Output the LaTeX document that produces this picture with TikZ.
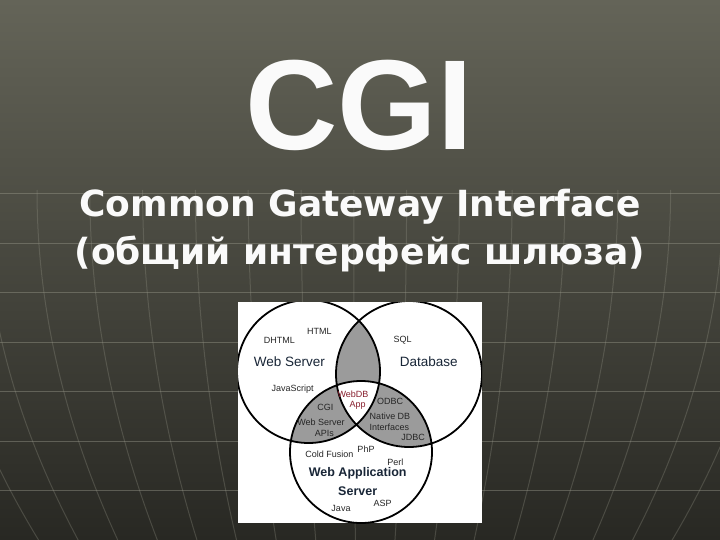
\documentclass[tikz,border=0pt]{standalone}
\usepackage{fontspec}
\setmainfont{Liberation Sans}
\newfontfamily\dejavu{DejaVu Sans}
\definecolor{bgtop}{RGB}{100,100,88}
\definecolor{bgmid}{RGB}{72,72,63}
\definecolor{bgbot}{RGB}{40,40,35}
\definecolor{gridline}{RGB}{150,150,136}
\definecolor{lensgrey}{RGB}{155,155,155}
\definecolor{navy}{RGB}{25,38,55}
\definecolor{webred}{RGB}{135,30,45}
\tikzset{
  lbl/.style={font=\fontsize{9}{10}\selectfont, text=black!85, inner sep=0pt},
  biglbl/.style={font=\fontsize{13.5}{15}\selectfont, text=navy, inner sep=0pt},
  gridrule/.style={gridline, line width=1pt, opacity=.45},
  gridcurve/.style={gridline, line width=1pt, opacity=.3},
  ring/.style={line width=1.8pt},
}
\begin{document}
\begin{tikzpicture}[x=1pt,y=-1pt]
\useasboundingbox (0,0) rectangle (720,540);
\pgfmathsetmacro{\rws}{71.5}
\pgfmathsetmacro{\rdb}{73}
\pgfmathsetmacro{\ras}{71}
%
\shade[top color=bgtop, middle color=bgmid, bottom color=bgbot] (0,0) rectangle (720,540);
\begin{scope}
\clip (0,0) rectangle (720,540);
\foreach \k in {0,...,6}
  \draw[gridrule] (0,194+49.4*\k) -- (720,194+49.4*\k);
\foreach \k in {-2,...,14}{
  \pgfmathsetmacro{\xa}{37+52.8*\k}
  \pgfmathsetmacro{\sh}{0.25*(360-\xa)}
  \draw[gridcurve] (\xa,190) .. controls (\xa,306.7) and (\xa+\sh/3,423.3) .. (\xa+\sh,540);
}
\end{scope}
%
\node[anchor=base, text=white!96!gray, font=\bfseries\fontsize{128}{128}\selectfont] (cgi) at (359,150) {CGI};
\node[anchor=base, text=white!96!gray, font=\dejavu\bfseries\fontsize{36}{40}\selectfont] (sub1) at (360,216) {Common Gateway Interface};
\node[anchor=base, text=white!96!gray, font=\dejavu\bfseries\fontsize{36}{40}\selectfont] (sub2) at (360,264) {(общий интерфейс шлюза)};
%
\fill[white] (238,302) rectangle (482,523);
\begin{scope}
\clip (238,302) rectangle (482,523);
\coordinate (ws) at (308.5,371.5);
\coordinate (db) at (409,374);
\coordinate (as) at (361,452);
\begin{scope}\clip (ws) circle[radius=\rws]; \fill[lensgrey] (db) circle[radius=\rdb];\end{scope}
\begin{scope}\clip (ws) circle[radius=\rws]; \fill[lensgrey] (as) circle[radius=\ras];\end{scope}
\begin{scope}\clip (db) circle[radius=\rdb]; \fill[lensgrey] (as) circle[radius=\ras];\end{scope}
\begin{scope}\clip (ws) circle[radius=\rws]; \clip (db) circle[radius=\rdb]; \fill[white] (as) circle[radius=\ras];\end{scope}
\draw[ring] (ws) circle[radius=\rws] (db) circle[radius=\rdb] (as) circle[radius=\ras];
\end{scope}
%
\node[lbl] (dhtml) at (279.3,340.7) {DHTML};
\node[lbl] (html) at (319.3,331.7) {HTML};
\node[biglbl] (webserver) at (289.3,361.7) {Web Server};
\node[lbl] (sql) at (402.7,340.7) {SQL};
\node[biglbl] (database) at (428.7,361.7) {Database};
\node[lbl] (javascript) at (292.7,389.3) {JavaScript};
\node[lbl, text=webred] (webdb) at (353,394) {WebDB};
\node[lbl, text=webred] (app) at (357.7,405.3) {App};
\node[lbl] (cgilbl) at (325.3,407.3) {CGI};
\node[lbl] (wsapi) at (321,422.7) {Web Server};
\node[lbl] (apis) at (324.3,433.3) {APIs};
\node[lbl] (odbc) at (390,401.7) {ODBC};
\node[lbl] (nativedb) at (390,416.7) {Native DB};
\node[lbl] (interfaces) at (389.3,427.3) {Interfaces};
\node[lbl] (jdbc) at (413,437) {JDBC};
\node[lbl] (coldfusion) at (329.3,454) {Cold Fusion};
\node[lbl] (php) at (366,449) {PhP};
\node[lbl] (perl) at (395.3,462.7) {Perl};
\node[biglbl, font=\bfseries\fontsize{12.5}{14}\selectfont] (webapp) at (357.7,473.3) {Web Application};
\node[biglbl, font=\bfseries\fontsize{12.5}{14}\selectfont] (server) at (357.7,490.7) {Server};
\node[lbl] (java) at (341,508.3) {Java};
\node[lbl] (asp) at (382.7,503.3) {ASP};
\end{tikzpicture}
\end{document}
